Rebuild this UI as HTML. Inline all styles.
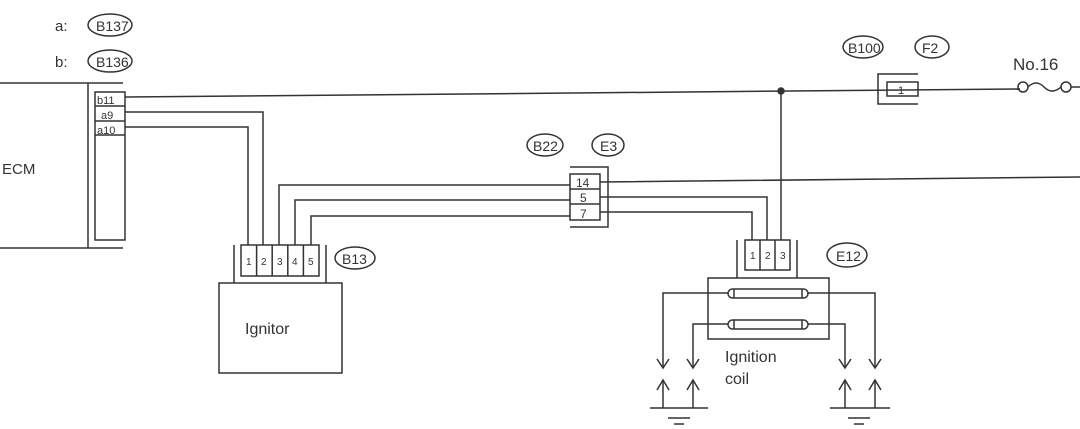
<!DOCTYPE html><html><head><style>body{margin:0;background:#fff}svg{display:block}text{font-family:"Liberation Sans",sans-serif;fill:#333}</style></head><body>
<svg width="1080" height="429" viewBox="0 0 1080 429" fill="none" stroke="#333" stroke-width="1.5">
<path d="M0 83H123M0 248H123M88 83V248"/>
<rect x="95" y="92" width="30" height="148"/>
<path d="M95 106H125M95 121H125M95 135H125"/>
<text x="97" y="104" font-size="11" stroke="none">b11</text>
<text x="101" y="119" font-size="11" stroke="none">a9</text>
<text x="97" y="134" font-size="11" stroke="none">a10</text>
<text x="2" y="174" font-size="15" stroke="none">ECM</text>
<text x="55" y="31" font-size="15" stroke="none">a:</text>
<ellipse cx="110" cy="25" rx="22" ry="11"/><text x="96" y="31" font-size="14" stroke="none">B137</text>
<text x="55" y="67" font-size="15" stroke="none">b:</text>
<ellipse cx="110" cy="61" rx="22" ry="11"/><text x="96" y="67" font-size="14" stroke="none">B136</text>
<path d="M125 97L1020 89"/><path d="M1071 87H1080"/>
<circle cx="781" cy="91" r="3" fill="#333"/>
<path d="M125 112H263V245M125 127H248V245"/>
<path d="M279 245V185H570M295 245V200H570M311 245V216H570"/>
<path d="M600 182L1080 177M600 197H767V240M600 212H752V240M781 91V240"/>
<rect x="241" y="245" width="78" height="31"/>
<path d="M256.6 245V276M272.2 245V276M287.8 245V276M303.4 245V276M234 245V283M326 245V283"/>
<g font-size="10" stroke="none"><text x="246" y="265">1</text><text x="261" y="265">2</text><text x="277" y="265">3</text><text x="292" y="265">4</text><text x="308" y="265">5</text></g>
<ellipse cx="355" cy="258" rx="20" ry="11"/><text x="342" y="264" font-size="14" stroke="none">B13</text>
<rect x="219" y="283" width="123" height="90"/>
<text x="245" y="334" font-size="16" stroke="none">Ignitor</text>
<rect x="570" y="174" width="30" height="46"/>
<path d="M570 189H600M570 204H600M570 167H608V227H570"/>
<text x="576" y="187" font-size="12" stroke="none">14</text>
<text x="580" y="202" font-size="12" stroke="none">5</text>
<text x="580" y="218" font-size="12" stroke="none">7</text>
<ellipse cx="545" cy="145" rx="18" ry="11"/><text x="533" y="151" font-size="14" stroke="none">B22</text>
<ellipse cx="608" cy="145" rx="16" ry="11"/><text x="600" y="151" font-size="14" stroke="none">E3</text>
<rect x="745" y="240" width="45" height="30"/>
<path d="M760 240V270M775 240V270M737 240V278M797 240V278"/>
<g font-size="10" stroke="none"><text x="750" y="259">1</text><text x="765" y="259">2</text><text x="780" y="259">3</text></g>
<ellipse cx="847" cy="255" rx="20" ry="12"/><text x="836" y="261" font-size="14" stroke="none">E12</text>
<rect x="708" y="278" width="121" height="61"/>
<rect x="728" y="289" width="80" height="9" rx="4.5"/>
<rect x="728" y="320" width="80" height="9" rx="4.5"/>
<path d="M734 289V298M802 289V298M734 320V329M802 320V329"/>
<path d="M728 293H663V368M728 324H693V368M808 293H875V368M808 324H845V368"/>
<path d="M657 359L663 368L669 359M687 359L693 368L699 359M839 359L845 368L851 359M869 359L875 368L881 359"/>
<path d="M657 390L663 380L669 390M687 390L693 380L699 390M839 390L845 380L851 390M869 390L875 380L881 390"/>
<path d="M663 380V408M693 380V408M845 380V408M875 380V408"/>
<path d="M650 408H708M668 418H690M674 424H684M830 408H890M848 418H870M854 424H864"/>
<text x="725" y="362" font-size="16" stroke="none">Ignition</text>
<text x="725" y="384" font-size="16" stroke="none">coil</text>
<path d="M918 74H878V104H918"/>
<rect x="887" y="82" width="31" height="14"/>
<text x="898" y="94" font-size="11" stroke="none">1</text>
<ellipse cx="863" cy="47" rx="20" ry="11"/><text x="848" y="53" font-size="14" stroke="none">B100</text>
<ellipse cx="932" cy="47" rx="17" ry="11"/><text x="922" y="53" font-size="14" stroke="none">F2</text>
<text x="1013" y="70" font-size="17" stroke="none">No.16</text>
<circle cx="1023" cy="87" r="5"/><circle cx="1066" cy="87" r="5"/>
<path d="M1028 87Q1036 79 1044 87T1061 87"/>
</svg></body></html>
